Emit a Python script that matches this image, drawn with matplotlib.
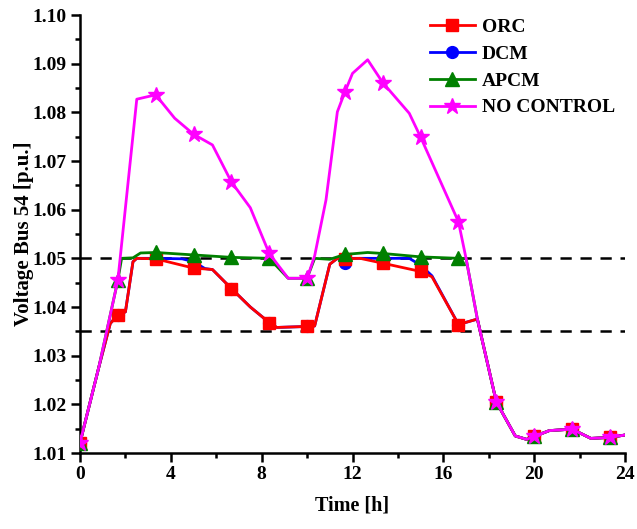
import numpy as np
import matplotlib
matplotlib.use("Agg")
import matplotlib.pyplot as plt
from matplotlib.ticker import MultipleLocator, FormatStrFormatter

plt.rcParams['font.family'] = ['Liberation Serif', 'DejaVu Serif']
plt.rcParams['font.weight'] = 'bold'

# ---- data (hours, p.u.) ----
mark_times = [0, 1.667, 3.333, 5, 6.667, 8.333, 10, 11.667, 13.333, 15, 16.667,
              18.333, 20, 21.667, 23.333]

t_nc = [0, 0.833, 1.667, 2.5, 3.333, 4.167, 5, 5.833, 6.667, 7.5, 8.333, 9.167, 10,
        10.333, 10.833, 11.333, 11.667, 12.0, 12.667, 13.333, 14.5, 15, 16.667, 17.0,
        17.5, 18.333, 19.167, 19.667, 20, 20.667, 21.667, 22.5, 23.333, 24]
v_nc = [1.0121, 1.0277, 1.0455, 1.0827, 1.0836, 1.0788, 1.0755, 1.0733, 1.0657, 1.0604,
        1.0510, 1.0459, 1.0459, 1.0505, 1.0620, 1.0801, 1.0842, 1.0880, 1.0908, 1.0861,
        1.0798, 1.0749, 1.0575, 1.0500, 1.0375, 1.0205, 1.0135, 1.0128, 1.0134, 1.0146,
        1.0149, 1.0130, 1.0132, 1.0137]

t_apcm = [0, 0.833, 1.667, 1.833, 2.333, 2.667, 3.333, 5, 6.667, 8.333, 9.167, 10,
          10.333, 11.0, 11.667, 12.667, 13.333, 15, 16.667, 17.0, 17.5, 18.333, 19.167,
          19.667, 20, 20.667, 21.667, 22.5, 23.333, 24]
v_apcm = [1.0121, 1.0277, 1.0455, 1.0500, 1.0501, 1.0511, 1.0512, 1.0507, 1.0502, 1.0500,
          1.0459, 1.0459, 1.0500, 1.0498, 1.0508, 1.0512, 1.0510, 1.0503, 1.0500, 1.0500,
          1.0375, 1.0205, 1.0135, 1.0128, 1.0134, 1.0146, 1.0149, 1.0130, 1.0132, 1.0137]

t_orc = [0, 0.833, 1.333, 1.667, 2.0, 2.333, 2.5, 3.333, 5, 5.833, 6.667, 7.5, 8.333,
         8.667, 10, 10.333, 11.0, 11.333, 11.667, 12.333, 13.333, 15, 15.5, 16.667,
         17.333, 17.5, 18.333, 19.167, 19.667, 20, 20.667, 21.667, 22.5, 23.333, 24]
v_orc = [1.0121, 1.0277, 1.0366, 1.0384, 1.0390, 1.0493, 1.0500, 1.0499, 1.0480, 1.0477,
         1.0438, 1.0400, 1.0368, 1.0358, 1.0360, 1.0361, 1.0488, 1.0500, 1.0499, 1.0500,
         1.0490, 1.0473, 1.0462, 1.0364, 1.0373, 1.0375, 1.0205, 1.0135, 1.0128, 1.0134,
         1.0146, 1.0149, 1.0130, 1.0132, 1.0137]

t_dcm = [0, 0.833, 1.333, 1.667, 2.0, 2.333, 2.5, 3.333, 4.5, 5, 5.5, 5.833, 6.667, 7.5,
         8.333, 8.667, 10, 10.333, 11.0, 11.333, 11.667, 12.0, 13.333, 14.5, 15, 15.5,
         16.667, 17.333, 17.5, 18.333, 19.167, 19.667, 20, 20.667, 21.667, 22.5, 23.333, 24]
v_dcm = [1.0121, 1.0277, 1.0366, 1.0384, 1.0390, 1.0493, 1.0500, 1.0500, 1.0499, 1.0493,
         1.0479, 1.0477, 1.0438, 1.0400, 1.0368, 1.0358, 1.0360, 1.0361, 1.0488, 1.0500,
         1.0490, 1.0500, 1.0500, 1.0500, 1.0486, 1.0464, 1.0364, 1.0373, 1.0375, 1.0205,
         1.0135, 1.0128, 1.0134, 1.0146, 1.0149, 1.0130, 1.0132, 1.0137]

limits = [1.05, 1.035]
labels = ['ORC', 'DCM', 'APCM', 'NO CONTROL']


def mark_idx(t):
    t = np.asarray(t)
    return [int(np.argmin(np.abs(t - m))) for m in mark_times]


fig = plt.figure(figsize=(6.37, 5.29), dpi=100)
ax = fig.add_axes([80 / 637, 1 - 453 / 529, 545 / 637, 438 / 529])

for y in limits:
    ax.axhline(y, color='black', lw=1.8, ls=(0, (4.5, 3.5)), zorder=1)

ax.plot(t_dcm, v_dcm, color='#0000FF', lw=2, marker='o', ms=8.5,
        markevery=mark_idx(t_dcm), label=labels[1], zorder=2)
ax.plot(t_orc, v_orc, color='#FF0000', lw=2, marker='s', ms=8.5,
        markevery=mark_idx(t_orc), label=labels[0], zorder=3)
ax.plot(t_apcm, v_apcm, color='#008000', lw=2, marker='^', ms=9.5,
        markevery=mark_idx(t_apcm), label=labels[2], zorder=4)
ax.plot(t_nc, v_nc, color='#FF00FF', lw=2, marker='*', ms=12,
        markevery=mark_idx(t_nc), label=labels[3], zorder=5)

ax.set_xlim(0, 24)
ax.set_ylim(1.01, 1.10)
ax.xaxis.set_major_locator(MultipleLocator(4))
ax.xaxis.set_minor_locator(MultipleLocator(2))
ax.yaxis.set_major_locator(MultipleLocator(0.01))
ax.yaxis.set_minor_locator(MultipleLocator(0.005))
ax.yaxis.set_major_formatter(FormatStrFormatter('%.2f'))
ax.tick_params(which='major', direction='out', length=6.5, width=1.8, labelsize=14, pad=3)
ax.tick_params(which='minor', direction='out', length=3.5, width=1.8)
for s in ['top', 'right']:
    ax.spines[s].set_visible(False)
for s in ['left', 'bottom']:
    ax.spines[s].set_linewidth(1.8)

ax.set_xlabel('Time [h]', fontsize=14.5, fontweight='bold', labelpad=9)
ax.set_ylabel('Voltage Bus 54 [p.u.]', fontsize=15, fontweight='bold', labelpad=-1)

h, l = ax.get_legend_handles_labels()
order = [l.index(x) for x in labels]
ax.legend([h[i] for i in order], [l[i] for i in order], loc='upper left',
          bbox_to_anchor=(430 / 637, 1 - 18 / 529), bbox_transform=fig.transFigure,
          frameon=False, fontsize=14, handlelength=2.3, handletextpad=0.35,
          labelspacing=0.48, borderpad=0, borderaxespad=0)

fig.savefig('out.png', dpi=100)
